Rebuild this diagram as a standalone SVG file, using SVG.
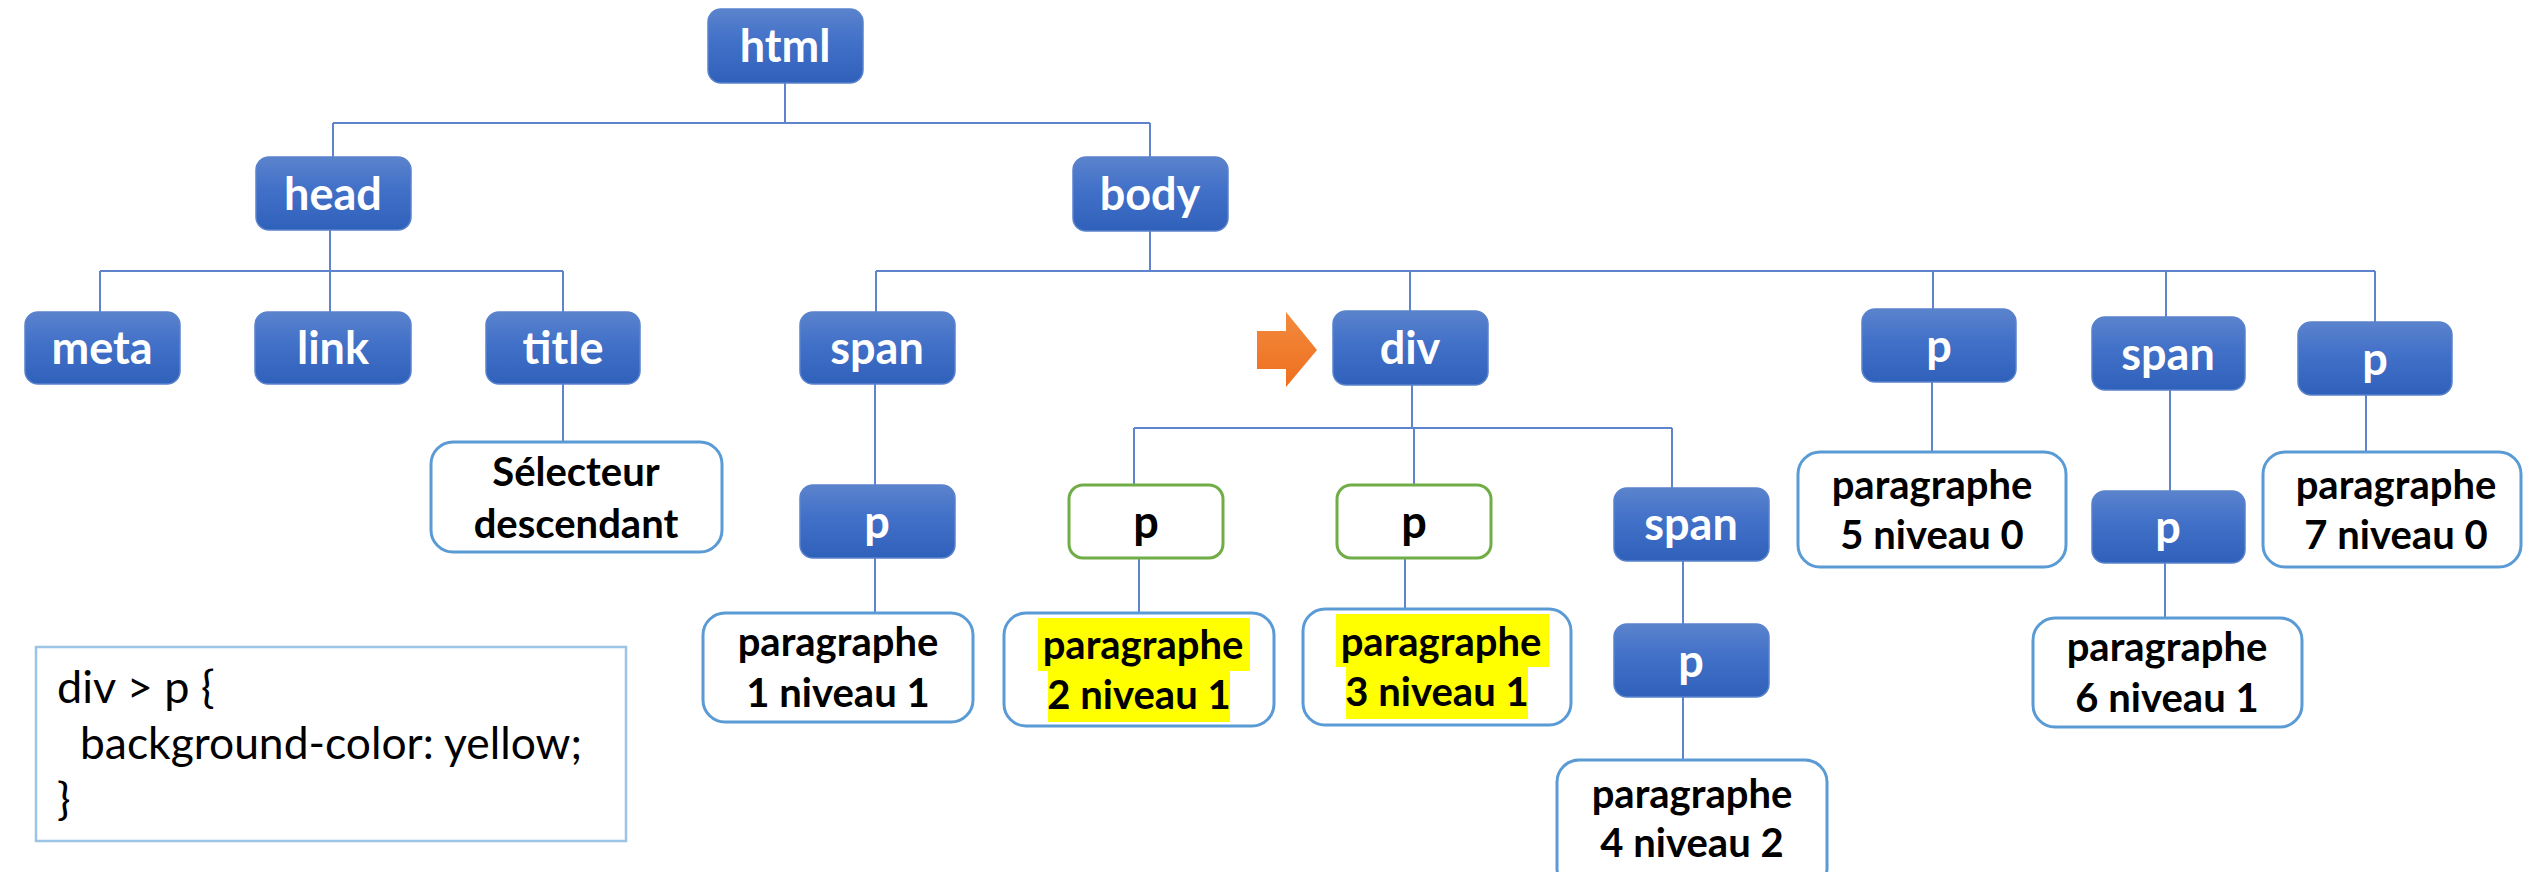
<svg xmlns="http://www.w3.org/2000/svg" width="2526" height="872" viewBox="0 0 2526 872">
<defs>
<linearGradient id="blue" x1="0" y1="0" x2="0" y2="1">
<stop offset="0" stop-color="#5B83CD"/>
<stop offset="0.45" stop-color="#4170C8"/>
<stop offset="1" stop-color="#3061BA"/>
</linearGradient>
<linearGradient id="orange" x1="0" y1="0" x2="0" y2="1">
<stop offset="0" stop-color="#F28A3E"/>
<stop offset="1" stop-color="#EE6F1E"/>
</linearGradient>
</defs>
<style>
.bn{fill:url(#blue);stroke:#5A83CC;stroke-width:1.5}
.bt{font-family:Lato,"Liberation Sans",sans-serif;font-weight:bold;font-size:45px;fill:#ffffff;text-anchor:middle}
.wn{fill:#ffffff;stroke:#5B9BD5;stroke-width:3}
.gn{fill:#ffffff;stroke:#70AD47;stroke-width:3}
.pt{font-family:Lato,"Liberation Sans",sans-serif;font-weight:bold;font-size:40px;fill:#000000;text-anchor:middle}
.gt{font-family:Lato,"Liberation Sans",sans-serif;font-weight:bold;font-size:45px;fill:#000000;text-anchor:middle}
.hl{fill:#FFFF00}
.ct{font-family:Lato,"Liberation Sans",sans-serif;font-size:45px;fill:#000000}
.cn{stroke:#5D84CC;stroke-width:2;fill:none}
</style>
<rect width="2526" height="872" fill="#ffffff"/>
<g id="connectors">
<path class="cn" d="M785 83V123M333 123H1150M333 123V157M1150 123V157"/>
<path class="cn" d="M330 230V271M100 271H563M100 271V312M330 271V312M563 271V312M563 384V442"/>
<path class="cn" d="M1150 231V271M876 271H2375M876 271V312M1410 271V311M1933 271V309M2166 271V317M2375 271V322"/>
<path class="cn" d="M875 384V485M875 558V613"/>
<path class="cn" d="M1412 385V428M1134 428H1672M1134 428V485M1414 428V485M1672 428V488"/>
<path class="cn" d="M1139 558V613M1405 558V609"/>
<path class="cn" d="M1683 561V624M1683 697V760"/>
<path class="cn" d="M1932 382V452M2170 390V491M2165 563V618M2366 395V452"/>
</g>
<g id="html"><rect class="bn" x="708" y="9" width="155" height="74" rx="13"/><text class="bt" x="785" y="62">html</text></g>
<g id="head"><rect class="bn" x="256" y="157" width="155" height="73" rx="13"/><text class="bt" x="333" y="210">head</text></g>
<g id="body"><rect class="bn" x="1073" y="157" width="155" height="74" rx="13"/><text class="bt" x="1150" y="210">body</text></g>
<g id="meta"><rect class="bn" x="25" y="312" width="155" height="72" rx="13"/><text class="bt" x="102" y="364">meta</text></g>
<g id="link"><rect class="bn" x="255" y="312" width="156" height="72" rx="13"/><text class="bt" x="333" y="364">link</text></g>
<g id="title"><rect class="bn" x="486" y="312" width="154" height="72" rx="13"/><text class="bt" x="563" y="364">title</text></g>
<g id="selecteur"><rect class="wn" x="431" y="442" width="291" height="110" rx="22"/><text class="pt" x="576" y="486">Sélecteur</text><text class="pt" x="576" y="538">descendant</text></g>
<g id="span1"><rect class="bn" x="800" y="312" width="155" height="72" rx="13"/><text class="bt" x="877" y="364">span</text></g>
<g id="p1"><rect class="bn" x="800" y="485" width="155" height="73" rx="13"/><text class="bt" x="877" y="538">p</text></g>
<g id="para1"><rect class="wn" x="703" y="613" width="270" height="109" rx="22"/><text class="pt" x="838" y="656">paragraphe</text><text class="pt" x="838" y="707">1 niveau 1</text></g>
<g id="arrow"><polygon points="1257,331 1286,331 1286,312 1317,350 1286,387 1286,369 1257,369" fill="url(#orange)"/></g>
<g id="div"><rect class="bn" x="1333" y="311" width="155" height="74" rx="13"/><text class="bt" x="1410" y="364">div</text></g>
<g id="pg1"><rect class="gn" x="1069" y="485" width="154" height="73" rx="14"/><text class="gt" x="1146" y="538">p</text></g>
<g id="pg2"><rect class="gn" x="1337" y="485" width="154" height="73" rx="14"/><text class="gt" x="1414" y="538">p</text></g>
<g id="para2"><rect class="wn" x="1004" y="613" width="270" height="113" rx="22"/><rect class="hl" x="1038" y="618" width="212" height="53"/><rect class="hl" x="1048" y="671" width="182" height="51"/><text class="pt" x="1143" y="659">paragraphe</text><text class="pt" x="1139" y="709">2 niveau 1</text></g>
<g id="para3"><rect class="wn" x="1303" y="609" width="268" height="116" rx="22"/><rect class="hl" x="1336" y="614" width="213" height="53"/><rect class="hl" x="1346" y="667" width="182" height="52"/><text class="pt" x="1441" y="656">paragraphe</text><text class="pt" x="1437" y="706">3 niveau 1</text></g>
<g id="span2"><rect class="bn" x="1614" y="488" width="155" height="73" rx="13"/><text class="bt" x="1691" y="540">span</text></g>
<g id="p3"><rect class="bn" x="1614" y="624" width="155" height="73" rx="13"/><text class="bt" x="1691" y="677">p</text></g>
<g id="para4"><rect class="wn" x="1557" y="760" width="270" height="130" rx="22"/><text class="pt" x="1692" y="808">paragraphe</text><text class="pt" x="1692" y="857">4 niveau 2</text></g>
<g id="p5"><rect class="bn" x="1862" y="309" width="154" height="73" rx="13"/><text class="bt" x="1939" y="362">p</text></g>
<g id="para5"><rect class="wn" x="1798" y="452" width="268" height="115" rx="22"/><text class="pt" x="1932" y="499">paragraphe</text><text class="pt" x="1932" y="549">5 niveau 0</text></g>
<g id="span3"><rect class="bn" x="2092" y="317" width="153" height="73" rx="13"/><text class="bt" x="2168" y="370">span</text></g>
<g id="p6"><rect class="bn" x="2092" y="491" width="153" height="72" rx="13"/><text class="bt" x="2168" y="543">p</text></g>
<g id="para6"><rect class="wn" x="2033" y="618" width="269" height="109" rx="22"/><text class="pt" x="2167" y="661">paragraphe</text><text class="pt" x="2167" y="712">6 niveau 1</text></g>
<g id="p7"><rect class="bn" x="2298" y="322" width="154" height="73" rx="13"/><text class="bt" x="2375" y="375">p</text></g>
<g id="para7"><rect class="wn" x="2263" y="452" width="258" height="115" rx="22"/><text class="pt" x="2396" y="499">paragraphe</text><text class="pt" x="2396" y="549">7 niveau 0</text></g>
<g id="code"><rect x="36" y="647" width="590" height="194" fill="#ffffff" stroke="#9DC3E6" stroke-width="2.5"/><text class="ct" x="57" y="703">div &gt; p {</text><text class="ct" x="80" y="759" textLength="502" lengthAdjust="spacingAndGlyphs">background-color: yellow;</text><text class="ct" x="57" y="815">}</text></g>
</svg>
